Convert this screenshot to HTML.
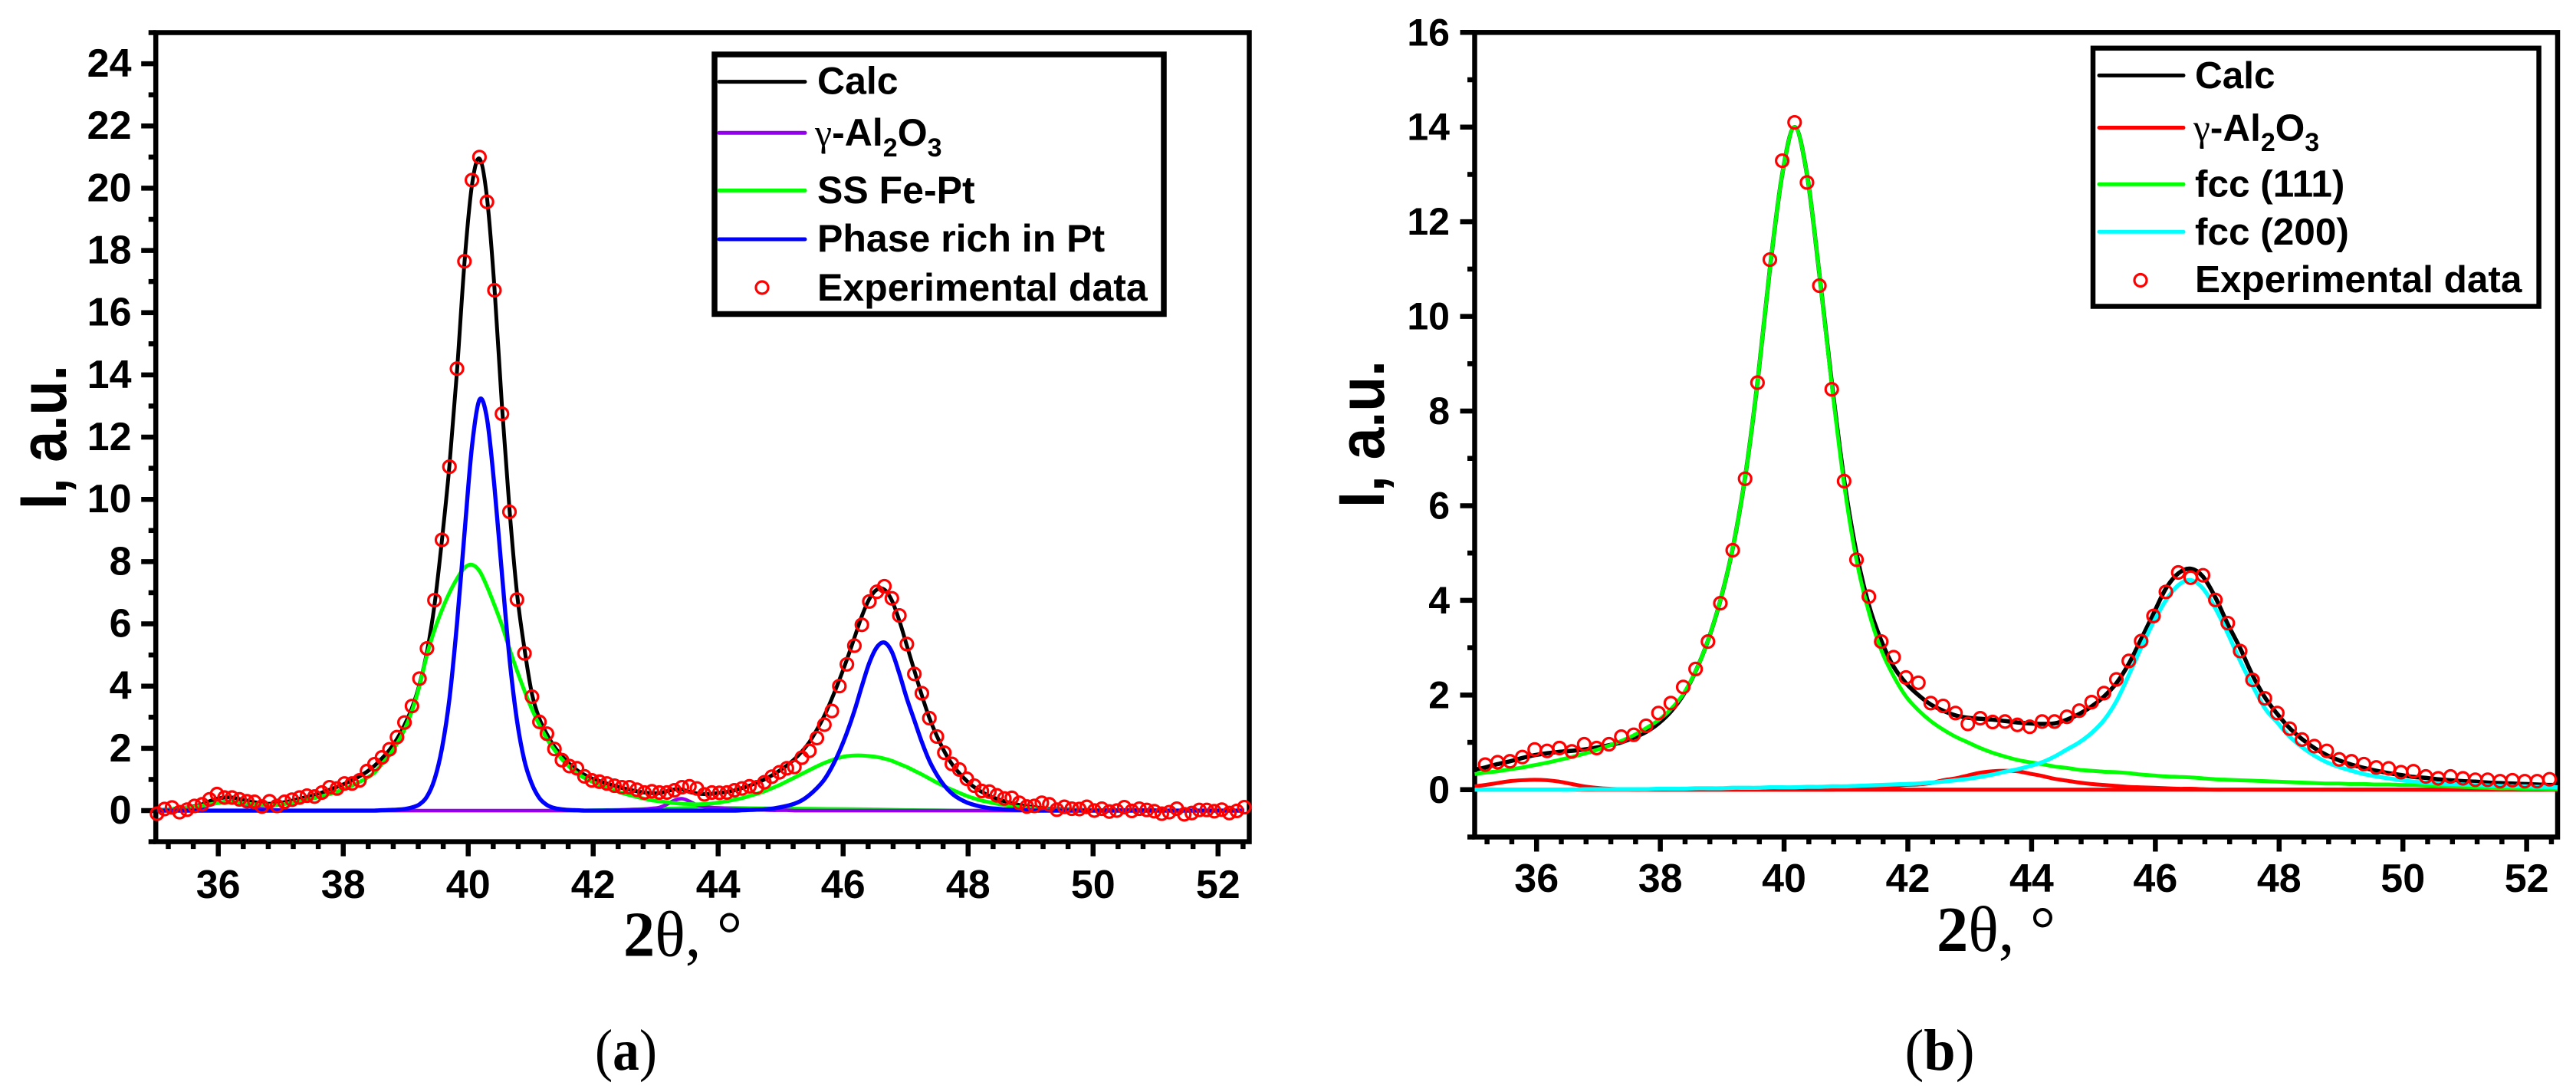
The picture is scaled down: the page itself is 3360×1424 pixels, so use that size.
<!DOCTYPE html>
<html lang="en">
<head>
<meta charset="utf-8">
<title>XRD peak fits</title>
<style>
html,body{margin:0;padding:0;background:#fff;}
svg{display:block;}
text{fill:#000;}
.sans{font-family:"Liberation Sans",sans-serif;font-weight:bold;}
.serif{font-family:"Liberation Serif",serif;}
</style>
</head>
<body>
<svg id="figure" xmlns="http://www.w3.org/2000/svg" width="3360" height="1424" viewBox="0 0 3360 1424">
  <rect width="3360" height="1424" fill="#fff"/>
  <g id="panelA"></g>
  <g id="panelB"></g>

  <text class="sans" x="86" y="570" font-size="86" text-anchor="middle" textLength="188" lengthAdjust="spacingAndGlyphs" transform="rotate(-90 86 570)">I, a.u.</text>
  <text class="serif" x="813" y="1246.5" font-size="84" textLength="155" lengthAdjust="spacingAndGlyphs"><tspan font-weight="bold">2</tspan>θ, °</text>
  <text class="serif" x="816.5" y="1395" font-size="76" text-anchor="middle" textLength="81" lengthAdjust="spacingAndGlyphs">(<tspan font-weight="bold">a</tspan>)</text>

  <text class="sans" x="1805" y="566" font-size="84" text-anchor="middle" textLength="192" lengthAdjust="spacingAndGlyphs" transform="rotate(-90 1805 566)">I, a.u.</text>
  <text class="serif" x="2526" y="1240" font-size="84" textLength="155" lengthAdjust="spacingAndGlyphs"><tspan font-weight="bold">2</tspan>θ, °</text>
  <text class="serif" x="2530" y="1395" font-size="76" text-anchor="middle" textLength="91" lengthAdjust="spacingAndGlyphs">(<tspan font-weight="bold">b</tspan>)</text>

  <g>
    <rect x="932" y="71" width="586" height="338.5" fill="#fff" stroke="#000" stroke-width="7.5"/>
    <g>
      <line x1="938" x2="1050" y1="106.6" y2="106.6" stroke="#000" stroke-width="5" stroke-linecap="round"/>
      <text class="sans" x="1066" y="122.5" font-size="50">Calc</text>
    </g>
    <g>
      <line x1="938" x2="1050" y1="173.3" y2="173.3" stroke="#9400ee" stroke-width="5" stroke-linecap="round"/>
      <text class="sans" x="1063" y="190" font-size="50"><tspan class="serif" font-weight="normal">γ</tspan>-Al<tspan font-size="34" dy="14">2</tspan><tspan dy="-14">O</tspan><tspan font-size="34" dy="14">3</tspan></text>
    </g>
    <g>
      <line x1="938" x2="1050" y1="248.4" y2="248.4" stroke="#00ff00" stroke-width="5" stroke-linecap="round"/>
      <text class="sans" x="1066" y="265" font-size="50">SS Fe-Pt</text>
    </g>
    <g>
      <line x1="938" x2="1050" y1="312" y2="312" stroke="#0000ff" stroke-width="5" stroke-linecap="round"/>
      <text class="sans" x="1066" y="328" font-size="50">Phase rich in Pt</text>
    </g>
    <g>
      <circle cx="994" cy="375" r="8" fill="none" stroke="#ff0000" stroke-width="3.2"/>
      <text class="sans" x="1066" y="392" font-size="50">Experimental data</text>
    </g>
  </g>

  <g>
    <rect x="2730" y="62.8" width="581.6" height="336.7" fill="#fff" stroke="#000" stroke-width="6.5"/>
    <g>
      <line x1="2738" x2="2848" y1="98.4" y2="98.4" stroke="#000" stroke-width="5" stroke-linecap="round"/>
      <text class="sans" x="2863" y="114.8" font-size="49.5">Calc</text>
    </g>
    <g>
      <line x1="2738" x2="2848" y1="166.5" y2="166.5" stroke="#ff0000" stroke-width="5" stroke-linecap="round"/>
      <text class="sans" x="2861" y="183.7" font-size="49.5"><tspan class="serif" font-weight="normal">γ</tspan>-Al<tspan font-size="34" dy="13.5">2</tspan><tspan dy="-13.5">O</tspan><tspan font-size="34" dy="13.5">3</tspan></text>
    </g>
    <g>
      <line x1="2738" x2="2848" y1="240.3" y2="240.3" stroke="#00ff00" stroke-width="5" stroke-linecap="round"/>
      <text class="sans" x="2863" y="256.4" font-size="49.5">fcc (111)</text>
    </g>
    <g>
      <line x1="2738" x2="2848" y1="302.3" y2="302.3" stroke="#00ffff" stroke-width="5" stroke-linecap="round"/>
      <text class="sans" x="2863" y="318.8" font-size="49.5">fcc (200)</text>
    </g>
    <g>
      <circle cx="2792" cy="365.5" r="8" fill="none" stroke="#ff0000" stroke-width="3.2"/>
      <text class="sans" x="2863" y="380.8" font-size="49.5">Experimental data</text>
    </g>
  </g>
</svg>

<script>
// ---------- Panel (a) data ----------
const xA = [
35.02,35.14,35.26,35.38,35.50,35.62,35.74,35.86,35.98,36.10,
36.22,36.34,36.46,36.58,36.70,36.82,36.94,37.06,37.18,37.30,
37.42,37.54,37.66,37.78,37.90,38.02,38.14,38.26,38.38,38.50,
38.62,38.74,38.86,38.98,39.10,39.22,39.34,39.46,39.58,39.70,
39.82,39.94,40.06,40.18,40.30,40.42,40.54,40.66,40.78,40.90,
41.02,41.14,41.26,41.38,41.50,41.62,41.74,41.86,41.98,42.10,
42.22,42.34,42.46,42.58,42.70,42.82,42.94,43.06,43.18,43.30,
43.42,43.54,43.66,43.78,43.90,44.02,44.14,44.26,44.38,44.50,
44.62,44.74,44.86,44.98,45.10,45.22,45.34,45.46,45.58,45.70,
45.82,45.94,46.06,46.18,46.30,46.42,46.54,46.66,46.78,46.90,
47.02,47.14,47.26,47.38,47.50,47.62,47.74,47.86,47.98,48.10,
48.22,48.34,48.46,48.58,48.70,48.82,48.94,49.06,49.18,49.30,
49.42,49.54,49.66,49.78,49.90,50.02,50.14,50.26,50.38,50.50,
50.62,50.74,50.86,50.98,51.10,51.22,51.34,51.46,51.58,51.70,
51.82,51.94,52.06,52.18,52.30,52.42];
const calcA = [
.02,.03,.05,.07,.10,.14,.20,.30,.38,.42,
.42,.37,.32,.27,.23,.22,.23,.27,.32,.38,
.44,.50,.58,.67,.76,.86,.97,1.10,1.25,1.44,
1.68,1.95,2.30,2.75,3.30,4.05,5.10,6.60,8.70,11.1,
14.1,17.6,20.1,20.95,19.7,16.8,13.0,9.7,7.0,5.2,
3.75,2.95,2.45,2.05,1.75,1.5,1.3,1.15,1.03,.95,
.87,.8,.73,.67,.62,.58,.56,.56,.62,.68,
.68,.6,.55,.53,.54,.57,.6,.65,.72,.8,
.9,1.0,1.13,1.28,1.45,1.65,1.9,2.2,2.6,3.05,
3.6,4.2,4.85,5.55,6.25,6.8,7.1,7.1,6.75,6.1,
5.3,4.5,3.7,2.98,2.4,1.9,1.5,1.2,.95,.75,
.6,.47,.38,.3,.24,.18,.14,.11,.08,.06,
.05,.04,.03,.02,.02,.01,.01,.01,.01,.01,
.01,.01,.01,.01,0,0,0,0,0,0,
0,0,0,0,0,0];
const gammaA = [
0,0,0,.01,.02,.05,.1,.17,.24,.28,
.28,.22,.15,.1,.06,.03,.02,.01,0,0,
0,0,0,0,0,0,0,0,0,0,
0,0,0,0,0,0,0,0,0,0,
0,0,0,0,0,0,0,0,0,0,
0,0,0,0,0,0,0,0,0,0,
.01,.01,.02,.03,.04,.05,.07,.1,.2,.33,
.38,.3,.18,.12,.1,.08,.06,.05,.04,.03,
.02,.02,.01,.01,.01,0,0,0,0,0,
0,0,0,0,0,0,0,0,0,0,
0,0,0,0,0,0,0,0,0,0,
0,0,0,0,0,0,0,0,0,0,
0,0,0,0,0,0,0,0,0,0,
0,0,0,0,0,0,0,0,0,0,
0,0,0,0,0,0];
const ssFePtA = [
.02,.03,.05,.07,.09,.12,.16,.2,.24,.26,
.26,.25,.22,.2,.18,.17,.18,.21,.25,.3,
.35,.4,.46,.53,.61,.7,.8,.92,1.05,1.22,
1.5,1.78,2.15,2.6,3.2,4.0,5.0,5.8,6.45,7.0,
7.45,7.8,7.9,7.7,7.2,6.6,5.95,5.2,4.5,3.85,
3.25,2.75,2.3,1.95,1.65,1.4,1.2,1.05,.93,.83,
.73,.65,.57,.5,.44,.38,.33,.3,.27,.24,
.22,.21,.2,.21,.23,.26,.3,.35,.4,.47,
.54,.62,.72,.82,.94,1.06,1.18,1.3,1.42,1.53,
1.62,1.7,1.75,1.77,1.77,1.75,1.72,1.67,1.6,1.5,
1.4,1.28,1.16,1.03,.9,.78,.67,.57,.47,.39,
.32,.27,.22,.18,.14,.11,.09,.07,.05,.04,
.03,.02,.02,.01,.01,.01,.01,0,0,0,
0,0,0,0,0,0,0,0,0,0,
0,0,0,0,0,0];
const ssBaseXA = [41.5,42,42.5,43,43.5,44,44.5,45,45.5,46,46.5,47,47.5,48,48.5];
const ssBaseYA = [.01,.03,.05,.08,.1,.11,.1,.09,.08,.07,.06,.04,.03,.02,.01];
const phaseRichA = [
0,0,0,0,0,0,0,0,0,0,
0,0,0,0,0,0,0,0,0,0,
0,0,0,0,0,0,0,0,0,0,
.01,.02,.03,.05,.1,.2,.45,1.0,2.0,3.6,
6.0,8.9,11.7,13.2,12.6,10.4,7.6,4.9,2.9,1.6,
.85,.4,.18,.08,.04,.02,.01,0,0,0,
0,0,0,0,0,0,0,0,0,0,
0,0,0,0,0,0,0,0,.01,.02,
.03,.04,.06,.1,.15,.22,.33,.5,.72,1.0,
1.4,1.9,2.5,3.2,4.0,4.75,5.25,5.4,5.1,4.4,
3.6,2.9,2.2,1.6,1.15,.8,.55,.38,.26,.18,
.12,.08,.06,.04,.03,.02,.01,0,0,0,
0,0,0,0,0,0,0,0,0,0,
0,0,0,0,0,0,0,0,0,0,
0,0,0,0,0,0];
const expA = [
-.1,.05,.1,-.05,.03,.15,.2,.36,.53,.42,
.42,.36,.3,.28,.13,.3,.15,.28,.35,.42,
.48,.45,.58,.75,.71,.87,.87,.97,1.27,1.49,
1.71,1.97,2.36,2.83,3.36,4.24,5.21,6.76,8.7,11.05,
14.2,17.65,20.26,21.0,19.56,16.72,12.75,9.6,6.78,5.05,
3.66,2.85,2.47,1.98,1.62,1.43,1.36,1.1,.97,.93,
.87,.8,.75,.75,.67,.58,.62,.58,.58,.65,
.75,.78,.71,.52,.58,.57,.58,.65,.71,.78,
.75,.91,1.09,1.23,1.36,1.4,1.7,1.92,2.33,2.76,
3.2,4.0,4.7,5.3,5.97,6.72,7.03,7.21,6.82,6.27,
5.35,4.39,3.77,2.97,2.38,1.86,1.5,1.32,1.02,.8,
.63,.61,.49,.39,.41,.25,.13,.15,.25,.2,
.03,.12,.06,.05,.12,0,.06,-.03,0,.11,
-.01,.06,.02,-.02,-.1,-.05,.06,-.12,-.08,.02,
.02,-.02,.03,-.08,-.01,.11];

// ---------- Panel (b) data ----------
const xB = [
35.00,35.17,35.37,35.57,35.77,35.97,36.17,36.37,36.57,36.77,
36.97,37.17,37.37,37.57,37.77,37.97,38.17,38.37,38.57,38.77,
38.97,39.17,39.37,39.57,39.77,39.97,40.17,40.37,40.57,40.77,
40.97,41.17,41.37,41.57,41.77,41.97,42.17,42.37,42.57,42.77,
42.97,43.17,43.37,43.57,43.77,43.97,44.17,44.37,44.57,44.77,
44.97,45.17,45.37,45.57,45.77,45.97,46.17,46.37,46.57,46.77,
46.97,47.17,47.37,47.57,47.77,47.97,48.17,48.37,48.57,48.77,
48.97,49.17,49.37,49.57,49.77,49.97,50.17,50.37,50.57,50.77,
50.97,51.17,51.37,51.57,51.77,51.97,52.17,52.37,52.50];
const calcB = [
.42,.47,.54,.6,.67,.73,.77,.8,.82,.85,
.89,.94,1.0,1.1,1.22,1.4,1.65,2.0,2.5,3.15,
4.0,5.1,6.6,8.6,11.0,13.0,14.0,13.0,10.9,8.6,
6.55,5.0,3.9,3.15,2.6,2.25,2.0,1.8,1.67,1.57,
1.52,1.5,1.48,1.45,1.42,1.4,1.39,1.4,1.48,1.6,
1.76,1.97,2.25,2.66,3.18,3.72,4.25,4.57,4.67,4.5,
4.06,3.5,2.99,2.42,1.95,1.6,1.3,1.07,.88,.73,
.62,.53,.46,.4,.35,.31,.27,.25,.22,.2,
.18,.17,.15,.14,.13,.12,.11,.1,.1];
const gammaB = [
.07,.1,.14,.18,.2,.21,.2,.17,.12,.07,
.04,.02,.01,0,0,0,0,0,0,0,
0,0,0,0,0,0,0,0,0,0,
.01,.02,.03,.05,.07,.1,.11,.14,.2,.24,
.3,.36,.39,.4,.39,.34,.29,.23,.19,.15,
.12,.1,.08,.06,.05,.04,.03,.02,.02,.01,
0,0,0,0,0,0,0,0,0,0,
0,0,0,0,0,0,0,0,0,0,
0,0,0,0,0,0,0,0,0];
const gammaBaseB = [
0,0,0,0,0,0,0,0,0,0,
0,0,0,0,0,0,0,0,0,0,
0,0,0,0,0,0,0,0,0,0,
0,0,0,0,0,0,0,0,0,0,
0,0,0,0,0,0,0,0,0,0,
0,0,0,0,0,0,0,0,0,0,
0,0,0,0,0,0,0,0,0,0,
0,0,0,0,0,0,0,0,0,0,
0,0,0,0,0,0,0,0,0];
const fcc111B = [
.33,.36,.39,.43,.47,.52,.57,.63,.69,.76,
.84,.93,1.03,1.15,1.3,1.47,1.7,2.02,2.5,3.15,
4.0,5.1,6.6,8.6,11.0,13.0,14.0,13.0,10.9,8.55,
6.45,4.85,3.75,2.95,2.4,1.97,1.68,1.45,1.27,1.12,
1.0,.88,.78,.7,.63,.58,.54,.49,.46,.42,
.4,.38,.37,.35,.32,.3,.28,.27,.26,.24,
.22,.21,.2,.19,.18,.17,.16,.15,.14,.13,
.13,.12,.12,.11,.11,.1,.1,.09,.08,.07,
.06,.05,.04,.03,.03,.02,.02,.01,.01];
const fcc200B = [
0,0,0,0,0,0,0,0,0,.01,
.01,.01,.01,.01,.01,.02,.02,.02,.03,.03,
.03,.04,.04,.04,.05,.05,.05,.06,.06,.07,
.07,.08,.09,.1,.11,.12,.13,.15,.17,.2,
.23,.27,.32,.38,.43,.5,.58,.7,.85,1.0,
1.2,1.47,1.87,2.42,3.0,3.54,4.0,4.32,4.43,4.25,
3.83,3.3,2.72,2.2,1.72,1.42,1.12,.9,.72,.58,
.48,.4,.33,.28,.24,.2,.17,.15,.13,.12,
.11,.1,.09,.08,.07,.07,.06,.06,.05];
const expB = [
null,.53,.58,.6,.69,.85,.82,.88,.81,.96,
.88,.96,1.12,1.16,1.35,1.62,1.83,2.17,2.55,3.13,
3.94,5.06,6.57,8.6,11.2,13.29,14.1,12.83,10.65,8.46,
6.52,4.86,4.08,3.13,2.8,2.37,2.26,1.83,1.77,1.62,
1.39,1.51,1.43,1.44,1.37,1.33,1.44,1.44,1.54,1.67,
1.85,2.04,2.33,2.72,3.14,3.67,4.18,4.59,4.48,4.53,
4.01,3.52,2.93,2.32,1.93,1.62,1.29,1.06,.92,.82,
.64,.6,.54,.47,.45,.37,.39,.28,.24,.28,
.24,.21,.21,.18,.2,.18,.18,.22,null];

// ---------- Tick labels ----------
const xTickLabels = [36,38,40,42,44,46,48,50,52];
const yTickLabelsA = [0,2,4,6,8,10,12,14,16,18,20,22,24];
const yTickLabelsB = [0,2,4,6,8,10,12,14,16];

const NS = 'http://www.w3.org/2000/svg';

function makeScale(d0, d1, r0, r1) {
  return function (v) { return r0 + (v - d0) * (r1 - r0) / (d1 - d0); };
}

function smoothPath(px, py) {
  let d = 'M' + px[0].toFixed(2) + ' ' + py[0].toFixed(2);
  for (let i = 0; i < px.length - 1; i++) {
    const a = Math.max(i - 1, 0), b = Math.min(i + 2, px.length - 1);
    const c1x = px[i] + (px[i + 1] - px[a]) / 6;
    const c1y = py[i] + (py[i + 1] - py[a]) / 6;
    const c2x = px[i + 1] - (px[b] - px[i]) / 6;
    const c2y = py[i + 1] - (py[b] - py[i]) / 6;
    d += 'C' + c1x.toFixed(2) + ' ' + c1y.toFixed(2) + ' ' + c2x.toFixed(2) + ' ' + c2y.toFixed(2) + ' ' + px[i + 1].toFixed(2) + ' ' + py[i + 1].toFixed(2);
  }
  return d;
}

function drawTick(root, x1, y1, x2, y2, w, name) {
  const el = document.createElementNS(NS, 'line');
  el.setAttribute('x1', x1);
  el.setAttribute('y1', y1);
  el.setAttribute('x2', x2);
  el.setAttribute('y2', y2);
  el.setAttribute('stroke', '#000');
  el.setAttribute('stroke-width', w);
  
  
  root.appendChild(el);
}

function drawLabel(root, x, y, str, anchor, size, name) {
  const el = document.createElementNS(NS, 'text');
  el.setAttribute('x', x);
  el.setAttribute('y', y);
  el.setAttribute('text-anchor', anchor);
  el.setAttribute('font-size', size);
  el.setAttribute('class', 'sans');
  
  
  el.textContent = str;
  root.appendChild(el);
}

function drawPanel(p) {
  const root = document.getElementById(p.id);
  const sx = makeScale(35, 52.5, p.left, p.right);
  const sy = makeScale(p.yMin, p.yMax, p.bottom, p.top);

  // minor x ticks
  for (let k = 0; k < 44; k++) {
    const v = 35.2 + k * 0.4;
    if (v > 52.45) break;
    if (Math.abs(v / 2 - Math.round(v / 2)) < 0.001) continue;
    drawTick(root, sx(v), p.bottom, sx(v), p.bottom + 9.5, 6.5, 'x-minor-tick');
  }
  // major x ticks + labels
  xTickLabels.forEach(function (v) {
    drawTick(root, sx(v), p.bottom, sx(v), p.bottom + 19, 6.5, 'x-major-tick');
    drawLabel(root, sx(v), p.xLabelY, String(v), 'middle', 52, 'x-tick-label');
  });
  // minor y ticks
  for (let v = p.yMin; v <= p.yMax; v += 2) {
    if (p.yTicks.indexOf(v) >= 0) continue;
    drawTick(root, p.left - 9.5, sy(v), p.left, sy(v), 6.5, 'y-minor-tick');
  }
  // major y ticks + labels
  p.yTicks.forEach(function (v) {
    drawTick(root, p.left - 19, sy(v), p.left, sy(v), 6.5, 'y-major-tick');
    drawLabel(root, p.yLabelX, sy(v) + 17, String(v), 'end', p.yFont, 'y-tick-label');
  });

  // frame
  const frame = document.createElementNS(NS, 'rect');
  frame.setAttribute('x', p.left);
  frame.setAttribute('y', p.top);
  frame.setAttribute('width', p.right - p.left);
  frame.setAttribute('height', p.bottom - p.top);
  frame.setAttribute('fill', 'none');
  frame.setAttribute('stroke', '#000');
  frame.setAttribute('stroke-width', 6.5);
  
  
  root.appendChild(frame);

  // series lines
  p.series.forEach(function (s) {
    const el = document.createElementNS(NS, 'path');
    el.setAttribute('d', smoothPath(s.x.map(sx), s.y.map(sy)));
    el.setAttribute('fill', 'none');
    el.setAttribute('stroke', s.color);
    el.setAttribute('stroke-width', s.width);
    el.setAttribute('stroke-linejoin', 'round');
    
    
    root.appendChild(el);
  });

  // experimental markers
  const mg = document.createElementNS(NS, 'g');
  
  
  root.appendChild(mg);
  p.exp.forEach(function (v, i) {
    if (v === null) return;
    const c = document.createElementNS(NS, 'circle');
    c.setAttribute('cx', sx(p.expX[i]).toFixed(2));
    c.setAttribute('cy', sy(v).toFixed(2));
    c.setAttribute('r', 8);
    c.setAttribute('fill', 'none');
    c.setAttribute('stroke', '#ff0000');
    c.setAttribute('stroke-width', 3.2);
    
    
    mg.appendChild(c);
  });
}

drawPanel({
  id: 'panelA', left: 203.2, right: 1629.5, top: 42.5, bottom: 1097.6,
  yMin: -1, yMax: 25, yTicks: yTickLabelsA, xLabelY: 1171, yLabelX: 171.5, yFont: 52,
  expX: xA, exp: expA,
  series: [
    { name: 'calc-line', x: xA, y: calcA, color: '#000000', width: 5 },
    { name: 'ss-fe-pt-base-line', x: ssBaseXA, y: ssBaseYA, color: '#00ff00', width: 3 },
    { name: 'gamma-alumina-line', x: xA, y: gammaA, color: '#9400ee', width: 4.6 },
    { name: 'ss-fe-pt-line', x: xA, y: ssFePtA, color: '#00ff00', width: 5 },
    { name: 'phase-rich-pt-line', x: xA, y: phaseRichA, color: '#0000ff', width: 5.4 }
  ]
});

drawPanel({
  id: 'panelB', left: 1923.5, right: 3336, top: 42.3, bottom: 1091.5,
  yMin: -1, yMax: 16, yTicks: yTickLabelsB, xLabelY: 1163, yLabelX: 1891, yFont: 50,
  expX: xB, exp: expB,
  series: [
    { name: 'calc-line', x: xB, y: calcB, color: '#000000', width: 5.5 },
    { name: 'gamma-alumina-line', x: xB, y: gammaB, color: '#ff0000', width: 5 },
    { name: 'gamma-alumina-baseline', x: xB, y: gammaBaseB, color: '#ff0000', width: 5.3 },
    { name: 'fcc-111-line', x: xB, y: fcc111B, color: '#00ff00', width: 5 },
    { name: 'fcc-200-line', x: xB, y: fcc200B, color: '#00ffff', width: 5.3 }
  ]
});
</script>
</body>
</html>
